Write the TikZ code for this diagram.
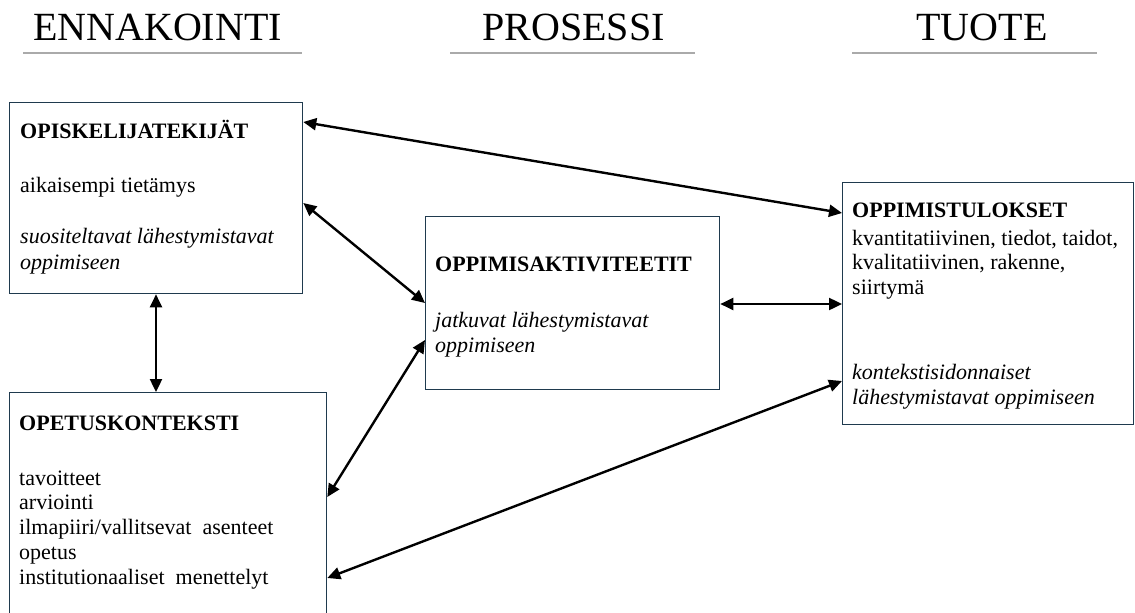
\documentclass[tikz,border=0pt]{standalone}
\usepackage{fontspec}
\setmainfont{Liberation Serif}
\newfontfamily\tnr{Liberation Serif}
\usetikzlibrary{arrows.meta}
\definecolor{boxline}{RGB}{31,58,78}
\definecolor{rulegray}{RGB}{170,170,170}
\tikzset{
  box/.style={draw=boxline, line width=1.3pt, fill=none, anchor=north west, inner sep=0pt},
  head/.style={anchor=base, inner sep=0pt, font=\tnr\fontsize{40}{48}\selectfont},
  hrule/.style={draw=rulegray, line width=2pt},
  txt/.style={anchor=base west, inner sep=0pt, font=\tnr\fontsize{22}{26}\selectfont},
  btxt/.style={txt, font=\tnr\fontsize{22}{26}\selectfont\bfseries},
  itxt/.style={txt, font=\tnr\fontsize{22}{26}\selectfont\itshape},
  link/.style={line width=2.4pt, {Triangle[length=13pt,width=12pt]}-{Triangle[length=13pt,width=12pt]}}
}
\begin{document}
\begin{tikzpicture}[x=1pt,y=-1pt]
\useasboundingbox (0,0) rectangle (1135,613);
\fill[white] (0,0) rectangle (1135,613);

% headers
\node[head] (h1) at (157.5,40) {ENNAKOINTI};
\node[head] (h2) at (573.5,40) {PROSESSI};
\node[head] (h3) at (982,40) {TUOTE};
\draw[hrule] (23,52.5) -- (302,52.5);
\draw[hrule] (450,52.5) -- (695,52.5);
\draw[hrule] (852,52.5) -- (1097,52.5);

% boxes
\node[box, minimum width=293pt, minimum height=191pt] (b1) at (9,102) {};
\node[box, minimum width=317pt, minimum height=260pt] (b2) at (9,392) {};
\node[box, minimum width=294pt, minimum height=173pt] (b3) at (425,216) {};
\node[box, minimum width=291pt, minimum height=242pt] (b4) at (842,182) {};

% box 1 text
\node[btxt] (t11) at (20,138) {OPISKELIJATEKIJÄT};
\node[txt] (t12) at (20,192) {aikaisempi tietämys};
\node[itxt] (t13) at (20,243) {suositeltavat lähestymistavat};
\node[itxt] (t14) at (20,269) {oppimiseen};

% box 2 text
\node[btxt] (t21) at (19,430) {OPETUSKONTEKSTI};
\node[txt] (t22) at (19,485) {tavoitteet};
\node[txt] (t23) at (19,509.5) {arviointi};
\node[txt] (t24) at (19,534) {ilmapiiri/vallitsevat\ \ asenteet};
\node[txt] (t25) at (19,559) {opetus};
\node[txt] (t26) at (19,584) {institutionaaliset\ \ menettelyt};

% box 3 text
\node[btxt] (t31) at (435,271) {OPPIMISAKTIVITEETIT};
\node[itxt] (t32) at (435,327) {jatkuvat lähestymistavat};
\node[itxt] (t33) at (435,352) {oppimiseen};

% box 4 text
\node[btxt] (t41) at (852,217) {OPPIMISTULOKSET};
\node[txt] (t42) at (852,245) {kvantitatiivinen, tiedot, taidot,};
\node[txt] (t43) at (852,269.5) {kvalitatiivinen, rakenne,};
\node[txt] (t44) at (852,294) {siirtymä};
\node[itxt] (t45) at (852,379) {kontekstisidonnaiset};
\node[itxt] (t46) at (852,404) {lähestymistavat oppimiseen};

% connectors
\draw[link] ([yshift=-20pt]b1.north east) -- ([yshift=-31pt]b4.north west);
\draw[link] ([yshift=-101pt]b1.north east) -- ([yshift=-87pt]b3.north west);
\draw[link] ([yshift=-124pt]b3.north west) -- ([yshift=-105pt]b2.north east);
\draw[link] ([yshift=-88pt]b3.north east) -- ([yshift=-122pt]b4.north west);
\draw[link] ([yshift=-199pt]b4.north west) -- ([yshift=-186pt]b2.north east);
\draw[link] ([xshift=147pt]b1.south west) -- ([xshift=147pt]b2.north west);
\end{tikzpicture}
\end{document}
